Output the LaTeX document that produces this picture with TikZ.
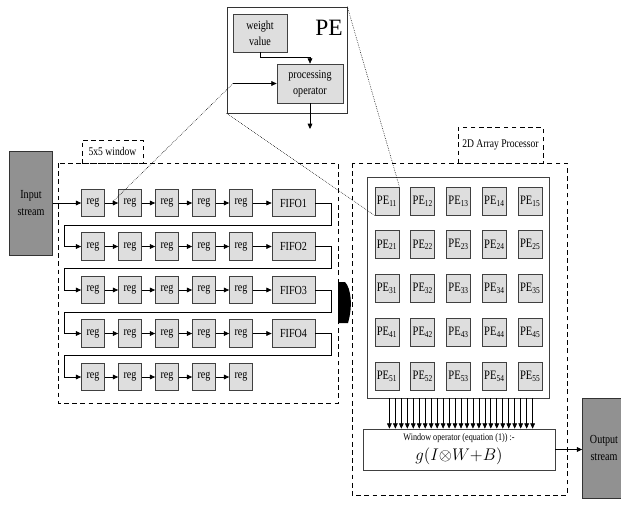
\documentclass[tikz,border=0pt]{standalone}
\usepackage{fontspec}
\setmainfont{Liberation Serif}[FakeStretch=0.82]
\newfontfamily\titlefont{Liberation Serif}
\usetikzlibrary{arrows.meta, positioning, calc}
\definecolor{streamgray}{RGB}{145,145,145}
\definecolor{cellgray}{RGB}{222,222,222}

\begin{document}
\begin{tikzpicture}[
  x=0.03cm, y=-0.03cm,
  every node/.style={font=\fontsize{10.5}{14}\selectfont},
  reg/.style={
    draw=black!75, fill=cellgray, line width=0.6pt,
    minimum width=0.69cm, minimum height=0.82cm, inner sep=0pt
  },
  fifo/.style={reg, minimum width=1.29cm},
  pecell/.style={
    draw=black!75, fill=cellgray, line width=0.6pt,
    minimum width=0.72cm, minimum height=0.84cm, inner sep=0pt,
    font=\fontsize{11}{12}\selectfont
  },
  stream/.style={
    draw=black!80, fill=streamgray, line width=0.6pt,
    minimum width=1.29cm, align=center, inner sep=0pt
  },
  frame/.style={draw, dash pattern=on 4pt off 3pt, line width=0.5pt},
  tag/.style={frame, inner sep=0pt, font=\fontsize{10}{11}\selectfont},
  arrow/.style={-{Triangle[length=4.5pt, width=4pt]}, line width=0.6pt},
  zoomline/.style={densely dotted, line width=0.5pt}
]

  \useasboundingbox (0,0) rectangle (621,504);

  % Ingresso
  \node[stream, minimum height=3.12cm] (input) at (31,203) {Input\\stream};

  % Finestra 5x5: registri e FIFO
  \draw[frame] (58,163) rectangle (338,403);
  \node[tag, minimum width=1.83cm, minimum height=0.69cm] (wintag) at (112.5,151.5) {5x5 window};
  \foreach \r in {1,...,5}
    \foreach \c in {1,...,5}
      \node[reg] (reg\r\c) at ({93+37*(\c-1)}, {203+43.5*(\r-1)}) {reg};
  \foreach \r in {1,...,4}
    \node[fifo] (fifo\r) at (293.5, {203+43.5*(\r-1)}) {FIFO\r};

  % Frecce lungo le righe
  \draw[arrow] (input.east) -- (reg11.west);
  \foreach \r in {1,...,5}
    \foreach \c/\n in {1/2, 2/3, 3/4, 4/5}
      \draw[arrow] (reg\r\c) -- (reg\r\n);
  \foreach \r in {1,...,4}
    \draw[arrow] (reg\r5) -- (fifo\r);

  % Ritorno a capo riga
  \foreach \r/\s in {1/2, 2/3, 3/4, 4/5}
    \draw[arrow] (fifo\r.east) -- ++(16,0) -- ++(0,22)
      -| ($(reg\s1.west)+(-17,0)$) -- (reg\s1.west);

  % Freccia piena verso l'array
  \fill (338,282) -- (345,282) .. controls (351,288) and (353,306) .. (348,323)
    -- (338,323) -- cycle;

  % Processore 2D
  \draw[frame] (352,163) rectangle (567,495);
  \node[tag, minimum width=2.55cm, minimum height=1.08cm] (arrtag) at (500.5,145) {2D Array Processor};
  \node[draw=black!75, line width=0.6pt, minimum width=5.46cm, minimum height=6.63cm] (array) at (458,287.5) {};
  \foreach \r in {1,...,5}
    \foreach \c in {1,...,5}
      \node[pecell] (pe\r\c) at ({387+35.8*(\c-1)}, {201+43.75*(\r-1)}) {PE\textsubscript{\r\c}};

  % Operatore di finestra
  \node[draw=black!75, line width=0.6pt, minimum width=5.76cm, minimum height=1.23cm,
    align=center, inner sep=1pt] (winop) at (459,449.5)
    {{\fontsize{8.5}{9}\selectfont Window operator (equation (1)) :-}\\[3pt]
     {\fontsize{14}{14}\selectfont $g(I{\otimes}W{+}B)$}};
  \foreach \i in {0,...,24}
    \draw[arrow] ([xshift={(\i-12)*0.179cm+0.09cm}]array.south)
      -- ([xshift={(\i-12)*0.179cm+0.09cm}]array.south |- winop.north);

  % Uscita
  \node[stream, minimum height=3cm] (output) at (604,448) {Output\\stream};
  \draw[arrow] (winop.east) -- (winop.east -| output.west);

  % Dettaglio del PE
  \node[draw=black!80, fill=white, line width=0.6pt, minimum width=3.6cm, minimum height=3.18cm] (pe) at (287,60) {};
  \node[font=\titlefont\fontsize{20}{20}\selectfont, inner sep=0pt] (petitle) at (329,28) {PE};
  \node[reg, minimum width=1.62cm, minimum height=1.14cm, align=center] (weight) at (260,33) {weight\\value};
  \node[reg, minimum width=1.98cm, minimum height=1.17cm, align=center] (proc) at (310,83.5) {processing\\operator};
  \coordinate (pein) at (233,83.5);
  \coordinate (peout) at (310,129);
  \draw[arrow] (weight.south) -- ++(0,5) -| (proc.north);
  \draw[arrow] (pein) -- (proc.west);
  \draw[arrow] (proc.south) -- (peout);

  % Linee di ingrandimento
  \draw[zoomline] (pein) -- ($(reg11.east)!0.5!(reg12.west)$);
  \draw[zoomline] (pe.south west) -- (pe11.south west);
  \draw[zoomline] (pe.north east) -- (pe11.north east);

\end{tikzpicture}
\end{document}
